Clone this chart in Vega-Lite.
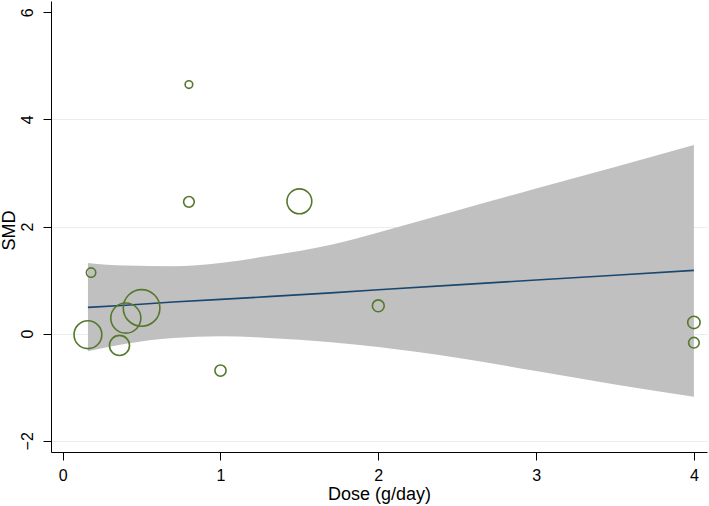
{
  "$schema": "https://vega.github.io/schema/vega-lite/v6.json",
  "autosize": {"type": "none"},
  "width": 656,
  "height": 451,
  "padding": {"left": 51, "top": 1, "right": 2, "bottom": 54},
  "background": "white",
  "config": {
    "view": {"stroke": null},
    "font": "Liberation Sans"
  },
  "datasets": {
    "studies": [
      {"dose": 0.18, "smd": 1.14, "weight": 28},
      {"dose": 0.16, "smd": -0.02, "weight": 246},
      {"dose": 0.40, "smd": 0.29, "weight": 289},
      {"dose": 0.50, "smd": 0.48, "weight": 428},
      {"dose": 0.36, "smd": -0.22, "weight": 128},
      {"dose": 0.80, "smd": 4.65, "weight": 18.5},
      {"dose": 0.80, "smd": 2.46, "weight": 36},
      {"dose": 1.50, "smd": 2.47, "weight": 196},
      {"dose": 1.00, "smd": -0.69, "weight": 40},
      {"dose": 2.00, "smd": 0.52, "weight": 45},
      {"dose": 4.00, "smd": 0.21, "weight": 49},
      {"dose": 4.00, "smd": -0.17, "weight": 36}
    ],
    "fit": [
      {"dose": 0.16, "lo": -0.33, "hi": 1.32, "fit": 0.49},
      {"dose": 0.4, "lo": -0.19, "hi": 1.27, "fit": 0.53},
      {"dose": 0.7, "lo": -0.08, "hi": 1.26, "fit": 0.59},
      {"dose": 1.0, "lo": -0.05, "hi": 1.32, "fit": 0.64},
      {"dose": 1.3, "lo": -0.08, "hi": 1.45, "fit": 0.69},
      {"dose": 1.7, "lo": -0.16, "hi": 1.66, "fit": 0.76},
      {"dose": 2.0, "lo": -0.25, "hi": 1.89, "fit": 0.82},
      {"dose": 2.5, "lo": -0.45, "hi": 2.30, "fit": 0.91},
      {"dose": 3.0, "lo": -0.70, "hi": 2.71, "fit": 1.00},
      {"dose": 3.5, "lo": -0.95, "hi": 3.11, "fit": 1.09},
      {"dose": 4.0, "lo": -1.18, "hi": 3.52, "fit": 1.18}
    ]
  },
  "encoding": {
    "x": {
      "field": "dose",
      "type": "quantitative",
      "scale": {"domain": [-0.074, 4.083], "nice": false, "zero": false},
      "axis": {
        "title": "Dose (g/day)",
        "values": [0, 1, 2, 3, 4],
        "format": "d",
        "grid": false,
        "domainColor": "#000000",
        "tickColor": "#000000",
        "tickSize": 8,
        "labelColor": "#000000",
        "labelFontSize": 16,
        "labelFont": "Liberation Sans",
        "labelPadding": 7,
        "titleColor": "#000000",
        "titleFontSize": 18,
        "titleFont": "Liberation Sans",
        "titleFontWeight": "normal",
        "titlePadding": 2
      }
    }
  },
  "layer": [
    {
      "data": {"name": "fit"},
      "mark": {"type": "area", "color": "#c0c0c0", "opacity": 1, "interpolate": "monotone"},
      "encoding": {
        "y": {
          "field": "lo",
          "type": "quantitative",
          "scale": {"domain": [-2.21, 6.21], "nice": false, "zero": false},
          "axis": {
            "title": "SMD",
            "values": [-2, 0, 2, 4, 6],
            "format": "d",
            "grid": true,
            "gridColor": "#e6eeef",
            "gridWidth": 1.2,
            "gridOpacity": {"condition": {"test": "datum.value == 6", "value": 0}, "value": 1},
            "domainColor": "#000000",
            "tickColor": "#000000",
            "tickSize": 8,
            "labelColor": "#000000",
            "labelFontSize": 16,
            "labelFont": "Liberation Sans",
            "labelAngle": -90,
            "labelAlign": "center",
            "labelBaseline": "bottom",
            "labelPadding": 8,
            "titleColor": "#000000",
            "titleFontSize": 18,
            "titleFont": "Liberation Sans",
            "titleFontWeight": "normal",
            "titleAngle": -90,
            "titleBaseline": "alphabetic",
            "titleAlign": "center",
            "titleX": -37,
            "titleY": 229
          }
        },
        "y2": {"field": "hi"}
      }
    },
    {
      "data": {"name": "fit"},
      "mark": {"type": "line", "color": "#1a476f", "strokeWidth": 1.6},
      "encoding": {
        "y": {"field": "fit", "type": "quantitative"}
      }
    },
    {
      "data": {"name": "studies"},
      "mark": {"type": "point", "shape": "circle", "filled": false, "color": "#55782c", "strokeWidth": 1.6, "opacity": 1},
      "encoding": {
        "y": {"field": "smd", "type": "quantitative"},
        "size": {
          "field": "weight",
          "type": "quantitative",
          "scale": {"type": "linear", "domain": [0, 100], "range": [0, 314], "zero": true},
          "legend": null
        }
      }
    }
  ]
}
